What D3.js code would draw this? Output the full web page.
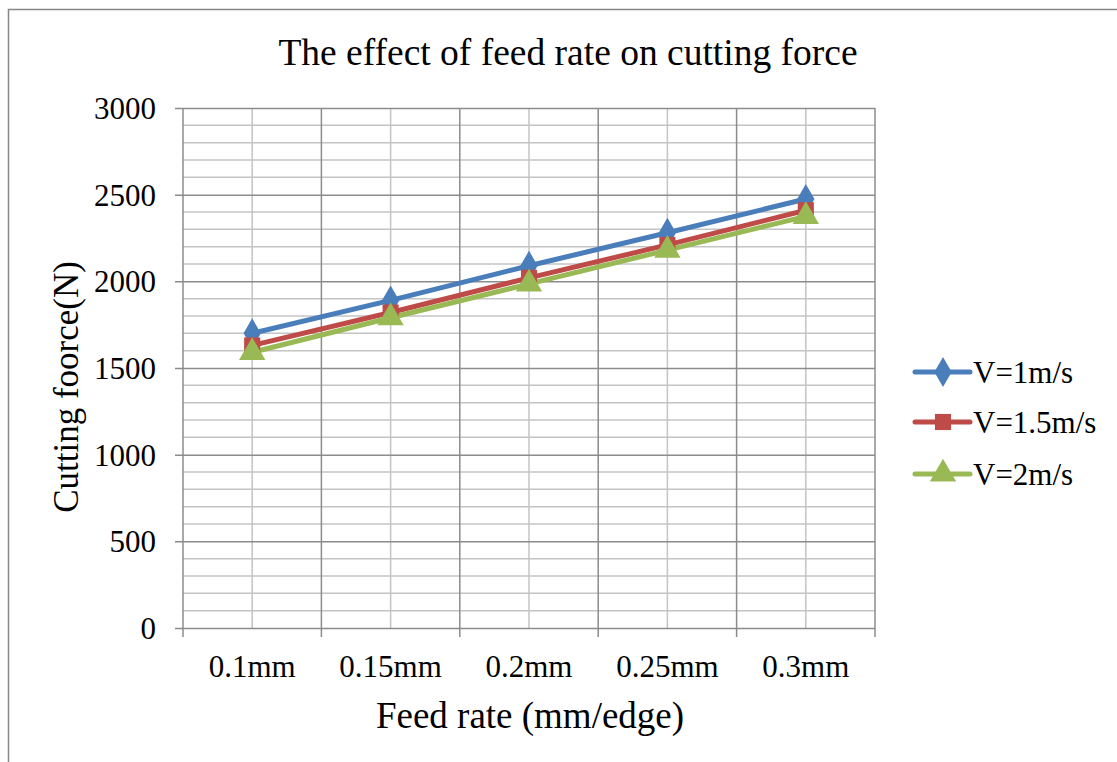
<!DOCTYPE html>
<html>
<head>
<meta charset="utf-8">
<script src="https://cdn.jsdelivr.net/npm/d3@7"></script>
<style>
    body { margin: 0; background: #fff; }
    svg { display: block; font-family: "Liberation Serif", "Times New Roman", serif; }
</style>
</head>
<body>
<div id="chart"></div>
<script>
const feedRates = ['0.1mm', '0.15mm', '0.2mm', '0.25mm', '0.3mm'];
const seriesNames = ['V=1m/s', 'V=1.5m/s', 'V=2m/s'];
const v1 = [1700, 1890, 2090, 2280, 2475];
const v15 = [1630, 1820, 2020, 2210, 2410];
const v2 = [1590, 1790, 1985, 2180, 2375];
const yTicks = [0, 500, 1000, 1500, 2000, 2500, 3000];

const colors = ['#4a7ebb', '#be4b48', '#98b954'];
const symbols = [d3.symbolDiamond, d3.symbolSquare, d3.symbolTriangle];
const symbolSizes = [260, 260, 300];

const series = [v1, v15, v2].map((values, i) => ({
    name: seriesNames[i],
    values: values.map((v, j) => ({ cat: feedRates[j], value: v })),
}));

const width = 1117;
const height = 762;
const plot = { left: 183, right: 875, top: 108, bottom: 628 };

const svg = d3.select('#chart')
    .append('svg')
    .attr('width', width)
    .attr('height', height);

// chart frame (only top and left edges are visible in the picture)
svg.append('rect')
    .attr('x', 8.5).attr('y', 9.5)
    .attr('width', width + 20).attr('height', height + 20)
    .attr('fill', 'none')
    .attr('stroke', '#878787')
    .attr('stroke-width', 1.5);

const x = d3.scalePoint()
    .domain(feedRates)
    .range([plot.left, plot.right])
    .padding(0.5);

const y = d3.scaleLinear()
    .domain([0, 3000])
    .range([plot.bottom, plot.top]);

const step = x.step();

// minor horizontal gridlines every 100
const grid = svg.append('g');
grid.selectAll('line.hminor')
    .data(d3.range(100, 3000, 100).filter(d => d % 500 !== 0))
    .join('line')
    .attr('x1', plot.left).attr('x2', plot.right)
    .attr('y1', d => y(d)).attr('y2', d => y(d))
    .attr('stroke', '#c4c4c4').attr('stroke-width', 1.5);

// minor vertical gridlines at category centres
grid.selectAll('line.vminor')
    .data(feedRates)
    .join('line')
    .attr('x1', d => x(d)).attr('x2', d => x(d))
    .attr('y1', plot.top).attr('y2', plot.bottom)
    .attr('stroke', '#c4c4c4').attr('stroke-width', 1.5);

// major vertical gridlines at category borders
const borders = d3.range(feedRates.length + 1).map(i => plot.left + i * step);
grid.selectAll('line.vmajor')
    .data(borders)
    .join('line')
    .attr('x1', d => d).attr('x2', d => d)
    .attr('y1', plot.top).attr('y2', plot.bottom + 9)
    .attr('stroke', '#8c8c8c').attr('stroke-width', 1.5);

// y axis with major gridlines
const yAxis = svg.append('g')
    .attr('transform', `translate(${plot.left},0)`)
    .call(d3.axisLeft(y).tickValues(yTicks).tickFormat(d3.format('d')).tickSize(8));
yAxis.select('.domain').remove();
yAxis.attr('font-family', null).attr('font-size', null);
yAxis.selectAll('.tick line')
    .attr('x2', plot.right - plot.left)
    .attr('x1', -8)
    .attr('stroke', '#8c8c8c').attr('stroke-width', 1.5);
yAxis.selectAll('.tick text')
    .attr('x', -27)
    .attr('dy', '0.34em')
    .style('font-size', '31px')
    .attr('fill', '#000');

// x axis labels
svg.append('g')
    .selectAll('text')
    .data(feedRates)
    .join('text')
    .attr('x', d => x(d))
    .attr('y', 677)
    .attr('text-anchor', 'middle')
    .style('font-size', '31px')
    .text(d => d);

// lines
const line = d3.line()
    .x(d => x(d.cat))
    .y(d => y(d.value));

series.forEach((s, i) => {
    svg.append('path')
        .datum(s.values)
        .attr('d', line)
        .attr('fill', 'none')
        .attr('stroke', colors[i])
        .attr('stroke-width', 5)
        .attr('stroke-linejoin', 'round');
});

series.forEach((s, i) => {
    svg.append('g')
        .selectAll('path')
        .data(s.values)
        .join('path')
        .attr('transform', d => `translate(${x(d.cat)},${y(d.value)})`)
        .attr('d', d3.symbol().type(symbols[i]).size(symbolSizes[i]))
        .attr('fill', colors[i]);
});

// title
svg.append('text')
    .attr('x', 568)
    .attr('y', 65)
    .attr('text-anchor', 'middle')
    .style('font-size', '37.5px')
    .text('The effect of feed rate on cutting force');

// axis titles
svg.append('text')
    .attr('x', 530)
    .attr('y', 728)
    .attr('text-anchor', 'middle')
    .style('font-size', '37px')
    .text('Feed rate (mm/edge)');

svg.append('text')
    .attr('transform', 'translate(78,387) rotate(-90)')
    .attr('text-anchor', 'middle')
    .style('font-size', '35px')
    .text('Cutting foorce(N)');

// legend
const legendY = [372, 422, 474];
const legend = svg.append('g');
series.forEach((s, i) => {
    const g = legend.append('g').attr('transform', `translate(915,${legendY[i]})`);
    g.append('line')
        .attr('x1', 0).attr('x2', 55)
        .attr('stroke', colors[i])
        .attr('stroke-width', 5)
        .attr('stroke-linecap', 'round');
    g.append('path')
        .attr('transform', 'translate(28,0)')
        .attr('d', d3.symbol().type(symbols[i]).size(symbolSizes[i]))
        .attr('fill', colors[i]);
    g.append('text')
        .attr('x', 58)
        .attr('y', 11)
        .style('font-size', '31px')
        .text(s.name);
});
</script>
</body>
</html>
